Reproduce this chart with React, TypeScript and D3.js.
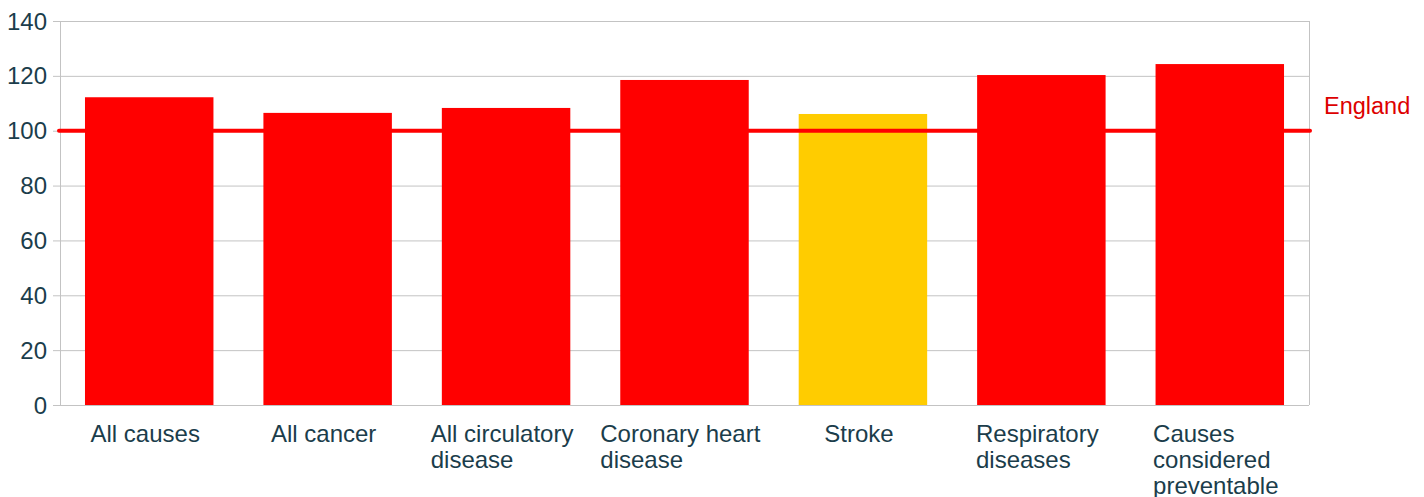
import React, { useEffect, useRef } from "react";
import * as d3 from "d3";

const categories: string[][] = [
  ["All causes"],
  ["All cancer"],
  ["All circulatory", "disease"],
  ["Coronary heart", "disease"],
  ["Stroke"],
  ["Respiratory", "diseases"],
  ["Causes", "considered", "preventable"],
];
const values = [112.2, 106.5, 108.3, 118.5, 106.1, 120.3, 124.3];
const barColors = ["#ff0000", "#ff0000", "#ff0000", "#ff0000", "#ffcc00", "#ff0000", "#ff0000"];
const yTicks = [0, 20, 40, 60, 80, 100, 120, 140];
const englandValue = 100;
const englandLabel = "England";

const App: React.FC = () => {
  const svgRef = useRef<SVGSVGElement>(null);
  const width = 1424;
  const height = 497;
  const margin = { top: 21, right: 115, bottom: 92, left: 60 };
  const w = width - margin.left - margin.right;
  const h = height - margin.top - margin.bottom;
  const textColor = "#1b3d4b";
  const font = "'Liberation Sans', Arial, sans-serif";

  useEffect(() => {
    const svg = d3.select(svgRef.current);
    svg.selectAll("*").remove();

    const x = d3.scaleBand<number>()
      .domain(values.map((_, i) => i))
      .range([0, w])
      .paddingInner(0.28)
      .paddingOuter(0.14);
    const y = d3.scaleLinear().domain([0, 140]).range([h, 0]);

    const g = svg.append("g")
      .attr("transform", `translate(${margin.left},${margin.top})`);

    // grid
    g.selectAll("line.grid")
      .data(yTicks)
      .join("line")
      .attr("x1", -7)
      .attr("x2", w)
      .attr("y1", (d) => y(d) + 0.5)
      .attr("y2", (d) => y(d) + 0.5)
      .attr("stroke", "#c3c3c3")
      .attr("stroke-width", 1);

    g.append("line")
      .attr("x1", 0.5).attr("x2", 0.5)
      .attr("y1", 0).attr("y2", h)
      .attr("stroke", "#c3c3c3");
    g.append("line")
      .attr("x1", w + 0.5).attr("x2", w + 0.5)
      .attr("y1", 0).attr("y2", h)
      .attr("stroke", "#c3c3c3");

    g.selectAll("text.ytick")
      .data(yTicks)
      .join("text")
      .attr("x", -13)
      .attr("y", (d) => y(d) + 8.5)
      .attr("text-anchor", "end")
      .attr("font-family", font)
      .attr("font-size", 24)
      .attr("fill", textColor)
      .text((d) => d);

    g.selectAll("rect.bar")
      .data(values)
      .join("rect")
      .attr("x", (_, i) => x(i)!)
      .attr("width", x.bandwidth())
      .attr("y", (d) => y(d))
      .attr("height", (d) => h - y(d))
      .attr("fill", (_, i) => barColors[i]);

    // England reference line
    g.append("line")
      .attr("x1", -1)
      .attr("x2", w + 1)
      .attr("y1", y(englandValue))
      .attr("y2", y(englandValue))
      .attr("stroke", "#ff0000")
      .attr("stroke-width", 4)
      .attr("stroke-linecap", "round");
    g.append("text")
      .attr("x", w + 15)
      .attr("y", y(englandValue) - 17)
      .attr("font-family", font)
      .attr("font-size", 23.5)
      .attr("fill", "#dd0000")
      .text(englandLabel);

    // category labels: left-aligned lines, block centred under bar
    categories.forEach((lines, i) => {
      const cx = x(i)! + x.bandwidth() / 2 - 4;
      const t = g.append("text")
        .attr("font-family", font)
        .attr("font-size", 24)
        .attr("fill", textColor);
      lines.forEach((ln, j) => {
        t.append("tspan").attr("x", 0).attr("y", h + 37 + j * 26).text(ln);
      });
      const bw = (t.node() as SVGTextElement).getBBox().width;
      t.selectAll("tspan").attr("x", cx - bw / 2);
    });
  }, []);

  return (
    <svg
      ref={svgRef}
      width={width}
      height={height}
      style={{ position: "absolute", left: 0, top: 0 }}
    ></svg>
  );
};

export default App;
